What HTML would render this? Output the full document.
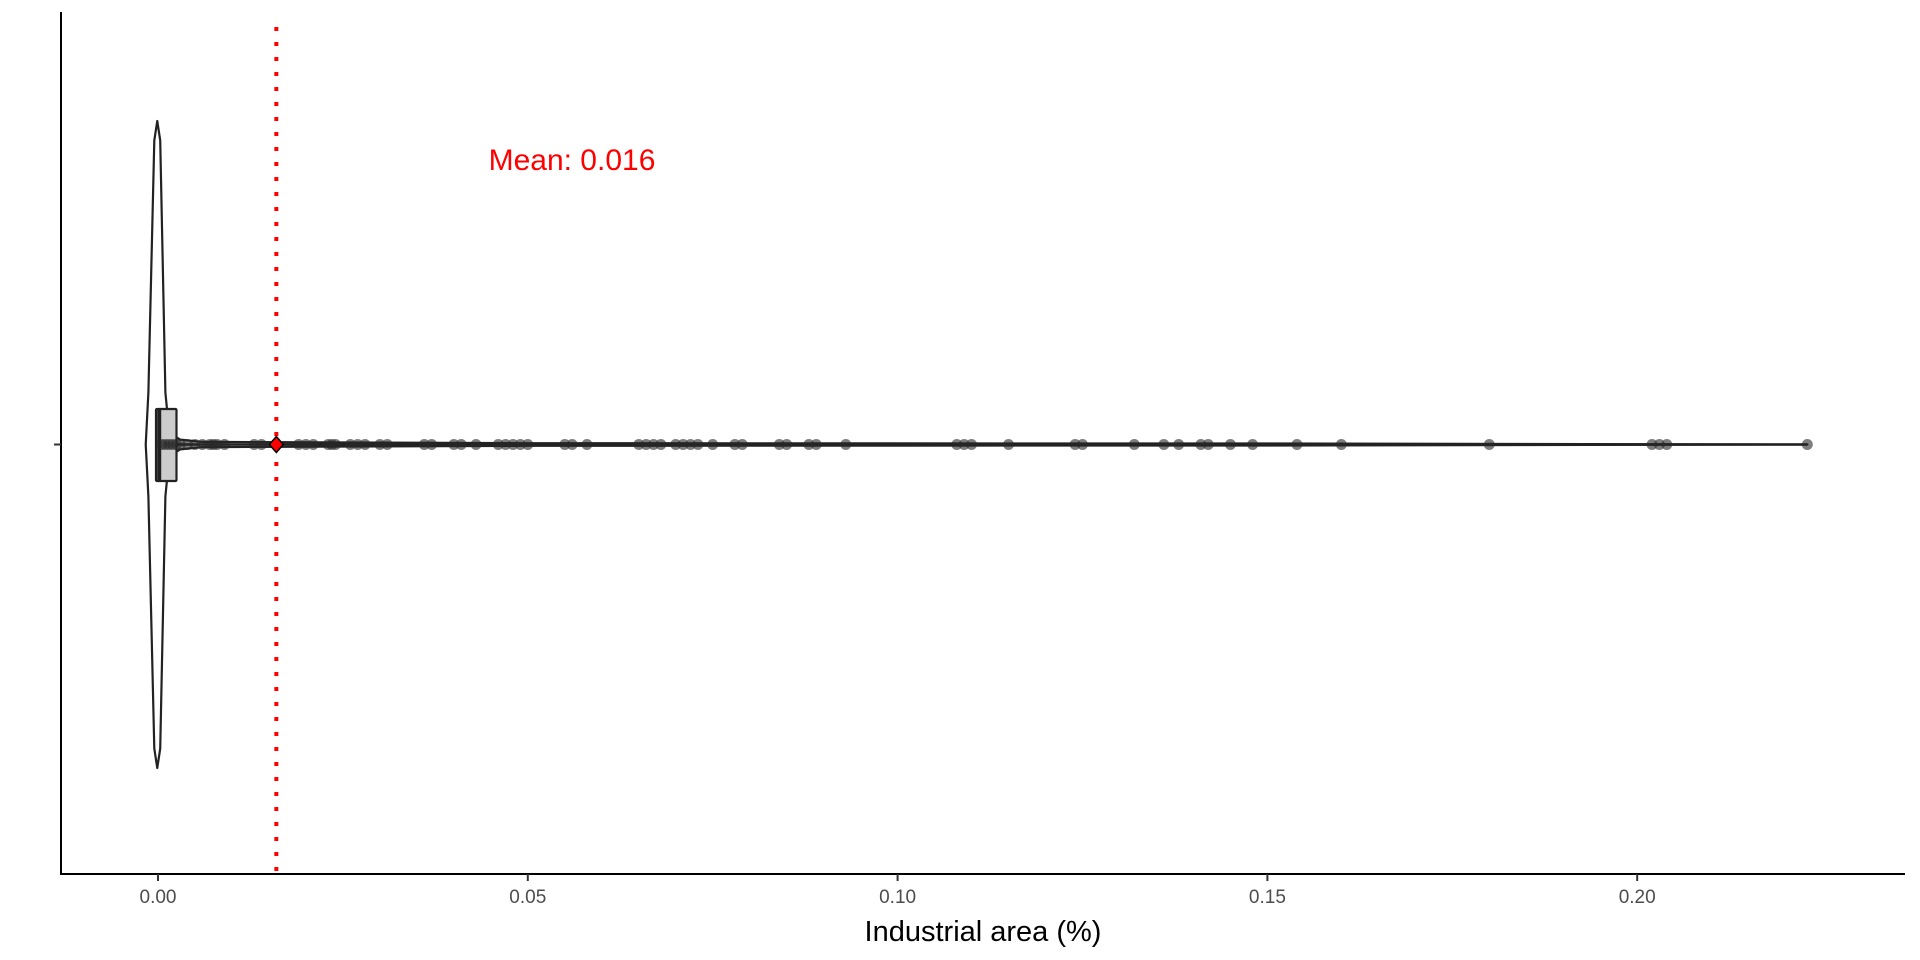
<!DOCTYPE html>
<html><head><meta charset="utf-8"><style>
html,body{margin:0;padding:0;background:#fff;}
svg{display:block;font-family:"Liberation Sans",Arial,sans-serif;}
</style></head><body>
<svg id="chart" width="1920" height="960" viewBox="0 0 1920 960"></svg>
<script>
const tickValues=[0,0.05,0.10,0.15,0.20];
const tickLabels=["0.00","0.05","0.10","0.15","0.20"];
const meanValue=0.016;
const meanLabel="Mean: 0.016";
const boxStats=[0,0,0.0003,0.0025,0.223]; // min,q1,median,q3,max
const pointValues=[0.0005,0.001,0.0015,0.002,0.0025,0.003,0.004,0.005,0.006,0.007,0.0075,0.008,0.009,0.013,0.014,0.019,0.02,0.021,0.023,0.0235,0.024,0.026,0.027,0.028,0.030,0.031,0.036,0.037,0.040,0.041,0.043,0.046,0.047,0.048,0.049,0.050,0.055,0.056,0.058,0.065,0.066,0.067,0.068,0.070,0.071,0.072,0.073,0.075,0.078,0.079,0.084,0.085,0.088,0.089,0.093,0.108,0.109,0.110,0.115,0.124,0.125,0.132,0.136,0.138,0.141,0.142,0.145,0.148,0.154,0.160,0.180,0.202,0.203,0.204,0.223];
const violinX=[-0.00166,-0.0013,-0.0005,-0.0001,0.0003,0.001,0.0013,0.002,0.003,0.006,0.05,0.15,0.223];
const violinW=[0,0.16,0.94,1.0,0.94,0.16,0.09,0.03,0.015,0.008,0.004,0.003,0];

const NS="http://www.w3.org/2000/svg";
const svg=document.getElementById('chart');
const x0=158,pxPer=7396,cy=444.5,halfMax=323.5;
const X=v=>x0+v*pxPer;
function mk(tag,attrs,parent){const e=document.createElementNS(NS,tag);for(const k in attrs)e.setAttribute(k,attrs[k]);(parent||svg).appendChild(e);return e;}

let e=mk('line',{x1:61,y1:12,x2:61,y2:874,stroke:'#000','stroke-width':2});


e=mk('line',{x1:60,y1:874,x2:1905,y2:874,stroke:'#000','stroke-width':2});


e=mk('line',{x1:54,y1:cy,x2:61,y2:cy,stroke:'#333','stroke-width':2});


tickValues.forEach((v,i)=>{
  const t=mk('line',{x1:X(v),y1:874,x2:X(v),y2:881,stroke:'#333','stroke-width':2});
  
  
  const l=mk('text',{x:X(v),y:903,'text-anchor':'middle','font-size':19,fill:'#4d4d4d'});
  l.textContent=tickLabels[i];
  
  
});
e=mk('text',{x:983,y:941,'text-anchor':'middle','font-size':29,fill:'#000'});
e.textContent='Industrial area (%)';



const upperPts=[],lowerPts=[];
violinX.forEach((v,i)=>{upperPts.push(X(v)+','+(cy-violinW[i]*halfMax));lowerPts.unshift(X(v)+','+(cy+violinW[i]*halfMax));});
e=mk('polygon',{points:upperPts.concat(lowerPts).join(' '),fill:'#fff',stroke:'#222','stroke-width':2.2,'stroke-linejoin':'round'});



e=mk('line',{x1:X(boxStats[3]),y1:cy,x2:X(boxStats[4]),y2:cy,stroke:'#222','stroke-width':2.5});


e=mk('rect',{x:X(boxStats[1])-2,y:409,width:X(boxStats[3])-X(boxStats[1])+2,height:72,fill:'#cccccc',stroke:'#222','stroke-width':2.2,rx:1});


e=mk('line',{x1:X(boxStats[2])-1,y1:409,x2:X(boxStats[2])-1,y2:481,stroke:'#222','stroke-width':4});



pointValues.forEach(v=>{
  const p=mk('circle',{cx:X(v),cy:cy,r:5.5,fill:'rgba(40,40,40,0.6)'});
  
  
});

e=mk('line',{x1:X(meanValue),y1:27,x2:X(meanValue),y2:874,stroke:'#ff0000','stroke-width':4,'stroke-dasharray':'4 11'});


const mx=X(meanValue);
e=mk('polygon',{points:`${mx},${cy-8} ${mx+7},${cy} ${mx},${cy+8} ${mx-7},${cy}`,fill:'#ff0000',stroke:'#000','stroke-width':1.5});


e=mk('text',{x:572,y:170,'text-anchor':'middle','font-size':30,fill:'#ff0000'});
e.textContent=meanLabel;


</script>
</body></html>
